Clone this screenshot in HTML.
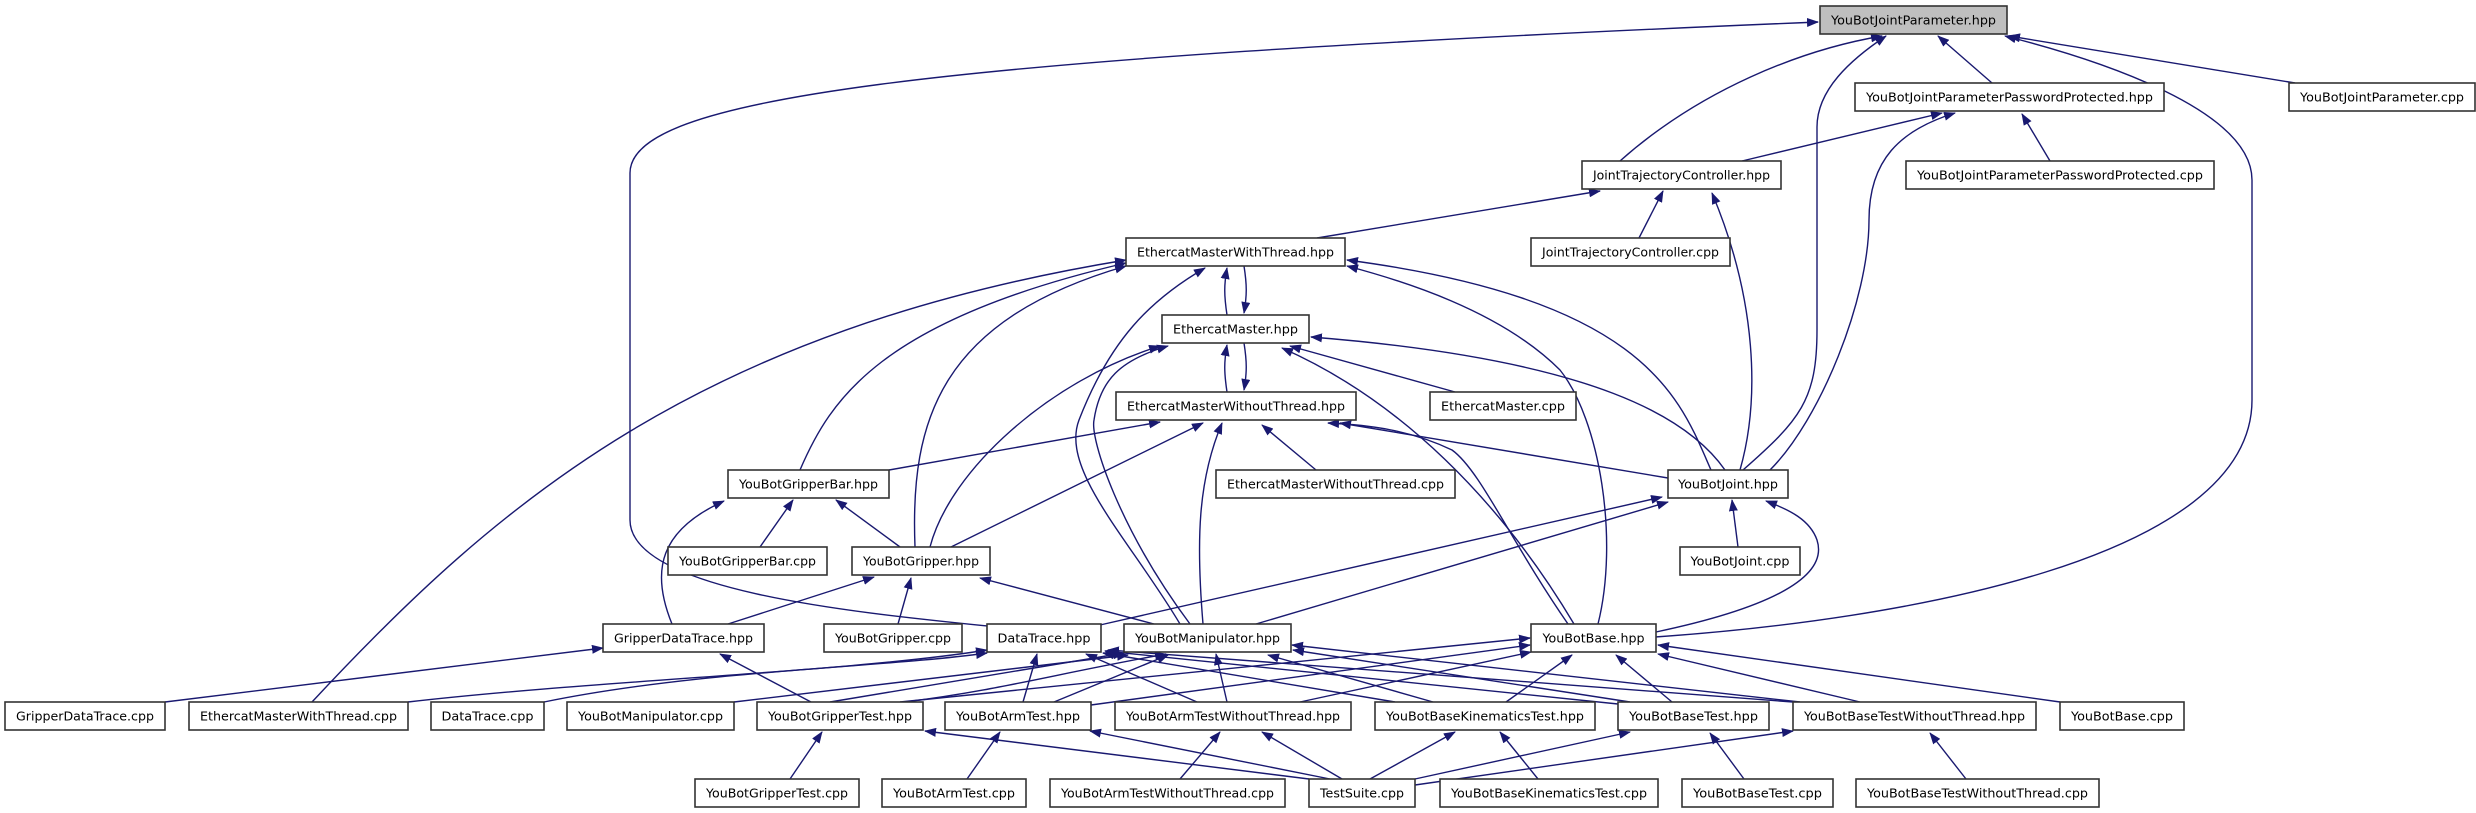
<!DOCTYPE html>
<html><head><meta charset="utf-8"><style>
html,body{margin:0;padding:0;background:#fff}
svg{display:block}
text{font-family:"DejaVu Sans","Liberation Sans",sans-serif;font-size:12px;fill:#000}
.e{fill:none;stroke:#191970;stroke-width:1.4;marker-end:url(#a)}
.n{fill:#fff;stroke:#333;stroke-width:1.6}
</style></head><body>
<svg width="2476" height="813" viewBox="0 0 2476 813" xmlns="http://www.w3.org/2000/svg">
<defs><marker id="a" markerWidth="12" markerHeight="9" refX="11" refY="4.5" orient="auto" markerUnits="userSpaceOnUse"><path d="M0,0 L12,4.5 L0,9 z" fill="#191970"/></marker></defs>
<g>
<path class="e" d="M987,626 C850,612 630,590 630,520 L630,173 C630,100 900,60 1818,22"/>
<path class="e" d="M1620,161 C1700,90 1800,50 1882,36"/>
<path class="e" d="M1743,470 C1800,420 1817,400 1817,330 L1817,127 C1817,90 1850,60 1886,36"/>
<path class="e" d="M1992,83 L1938,36"/>
<path class="e" d="M1655,637 C1900,620 2252,560 2252,400 L2252,180 C2252,110 2100,60 2005,36"/>
<path class="e" d="M2295,83 L2009,36"/>
<path class="e" d="M1742,161 L1942,113"/>
<path class="e" d="M1770,470 C1820,420 1869,300 1869,220 C1869,160 1900,130 1955,113"/>
<path class="e" d="M2050,161 L2022,114"/>
<path class="e" d="M1317,238 L1600,191"/>
<path class="e" d="M1639,238 L1663,191"/>
<path class="e" d="M1740,470 C1760,400 1757,300 1712,193"/>
<path class="e" d="M1227,315 C1224,295 1224,285 1227,268"/>
<path class="e" d="M1244,266 C1247,285 1247,295 1244,313"/>
<path class="e" d="M312,702 C500,500 700,330 1126,260"/>
<path class="e" d="M800,470 C830,400 880,320 1126,263"/>
<path class="e" d="M915,547 C910,420 940,320 1126,266"/>
<path class="e" d="M1180,624 C1130,540 1060,470 1079,420 C1110,340 1150,300 1205,268"/>
<path class="e" d="M1711,470 C1680,400 1650,300 1347,260"/>
<path class="e" d="M1598,624 C1619,540 1600,420 1560,370 C1500,310 1400,280 1347,266"/>
<path class="e" d="M1725,470 C1690,420 1600,360 1311,337"/>
<path class="e" d="M1227,392 C1224,372 1224,362 1227,345"/>
<path class="e" d="M1244,343 C1247,362 1247,372 1244,390"/>
<path class="e" d="M1455,392 L1290,346"/>
<path class="e" d="M1574,624 C1500,500 1400,400 1282,348"/>
<path class="e" d="M930,547 C950,470 1050,380 1160,346"/>
<path class="e" d="M1190,624 C1120,530 1090,440 1094,420 C1100,380 1120,360 1168,346"/>
<path class="e" d="M889,470 L1160,422"/>
<path class="e" d="M951,547 L1203,423"/>
<path class="e" d="M1203,624 C1196,540 1198,480 1222,423"/>
<path class="e" d="M1316,470 L1262,425"/>
<path class="e" d="M1568,624 C1510,540 1480,470 1452,450 C1410,430 1370,425 1328,423"/>
<path class="e" d="M1668,478 L1340,423"/>
<path class="e" d="M1738,547 L1732,500"/>
<path class="e" d="M1656,632 C1760,610 1830,580 1817,540 C1810,520 1790,510 1766,501"/>
<path class="e" d="M1100,625 L1662,497"/>
<path class="e" d="M1256,624 L1668,502"/>
<path class="e" d="M760,547 L793,500"/>
<path class="e" d="M900,547 L836,500"/>
<path class="e" d="M672,624 C650,570 660,530 724,501"/>
<path class="e" d="M898,624 L911,578"/>
<path class="e" d="M728,624 L874,577"/>
<path class="e" d="M1154,624 L980,578"/>
<path class="e" d="M165,702 L603,648"/>
<path class="e" d="M811,702 L720,654"/>
<path class="e" d="M408,702 C600,680 850,672 987,650"/>
<path class="e" d="M544,702 C700,670 880,668 987,653"/>
<path class="e" d="M734,702 L1128,655"/>
<path class="e" d="M830,702 L1124,653"/>
<path class="e" d="M1023,702 L1037,654"/>
<path class="e" d="M1197,702 L1086,654"/>
<path class="e" d="M1395,702 L1103,653"/>
<path class="e" d="M1618,704 L1105,651"/>
<path class="e" d="M1793,702 L1108,650"/>
<path class="e" d="M905,702 C1000,690 1050,675 1166,654"/>
<path class="e" d="M1054,702 L1168,655"/>
<path class="e" d="M1227,702 L1216,654"/>
<path class="e" d="M1433,702 L1268,655"/>
<path class="e" d="M1630,702 L1293,650"/>
<path class="e" d="M1800,702 L1292,645"/>
<path class="e" d="M900,702 L1530,638"/>
<path class="e" d="M1091,705 L1530,645"/>
<path class="e" d="M1300,702 L1531,652"/>
<path class="e" d="M1506,702 L1572,655"/>
<path class="e" d="M1672,702 L1616,655"/>
<path class="e" d="M1860,702 L1658,654"/>
<path class="e" d="M2060,702 L1658,645"/>
<path class="e" d="M790,779 L822,732"/>
<path class="e" d="M1309,779 L925,731"/>
<path class="e" d="M967,779 L1000,732"/>
<path class="e" d="M1330,779 L1090,731"/>
<path class="e" d="M1180,779 L1220,732"/>
<path class="e" d="M1342,779 L1262,732"/>
<path class="e" d="M1370,779 L1455,732"/>
<path class="e" d="M1538,779 L1500,732"/>
<path class="e" d="M1415,779 L1630,732"/>
<path class="e" d="M1744,779 L1710,733"/>
<path class="e" d="M1415,785 L1793,731"/>
<path class="e" d="M1966,779 L1930,733"/>
</g>
<g>
<rect x="1820" y="6" width="187" height="28" fill="#bfbfbf" stroke="#333" stroke-width="1.6"/><text x="1913.5" y="24.5" text-anchor="middle" textLength="165" lengthAdjust="spacingAndGlyphs">YouBotJointParameter.hpp</text>
<rect class="n" x="1855" y="83" width="309" height="28"/><text x="2009.5" y="101.5" text-anchor="middle" textLength="287" lengthAdjust="spacingAndGlyphs">YouBotJointParameterPasswordProtected.hpp</text>
<rect class="n" x="2289" y="83" width="186" height="28"/><text x="2382" y="101.5" text-anchor="middle" textLength="164" lengthAdjust="spacingAndGlyphs">YouBotJointParameter.cpp</text>
<rect class="n" x="1582" y="161" width="199" height="28"/><text x="1681.5" y="179.5" text-anchor="middle" textLength="177" lengthAdjust="spacingAndGlyphs">JointTrajectoryController.hpp</text>
<rect class="n" x="1906" y="161" width="308" height="28"/><text x="2060" y="179.5" text-anchor="middle" textLength="286" lengthAdjust="spacingAndGlyphs">YouBotJointParameterPasswordProtected.cpp</text>
<rect class="n" x="1126" y="238" width="219" height="28"/><text x="1235.5" y="256.5" text-anchor="middle" textLength="197" lengthAdjust="spacingAndGlyphs">EthercatMasterWithThread.hpp</text>
<rect class="n" x="1531" y="238" width="199" height="28"/><text x="1630.5" y="256.5" text-anchor="middle" textLength="177" lengthAdjust="spacingAndGlyphs">JointTrajectoryController.cpp</text>
<rect class="n" x="1162" y="315" width="147" height="28"/><text x="1235.5" y="333.5" text-anchor="middle" textLength="125" lengthAdjust="spacingAndGlyphs">EthercatMaster.hpp</text>
<rect class="n" x="1116" y="392" width="240" height="28"/><text x="1236" y="410.5" text-anchor="middle" textLength="218" lengthAdjust="spacingAndGlyphs">EthercatMasterWithoutThread.hpp</text>
<rect class="n" x="1430" y="392" width="146" height="28"/><text x="1503" y="410.5" text-anchor="middle" textLength="124" lengthAdjust="spacingAndGlyphs">EthercatMaster.cpp</text>
<rect class="n" x="728" y="470" width="161" height="28"/><text x="808.5" y="488.5" text-anchor="middle" textLength="139" lengthAdjust="spacingAndGlyphs">YouBotGripperBar.hpp</text>
<rect class="n" x="1216" y="470" width="239" height="28"/><text x="1335.5" y="488.5" text-anchor="middle" textLength="217" lengthAdjust="spacingAndGlyphs">EthercatMasterWithoutThread.cpp</text>
<rect class="n" x="1668" y="470" width="120" height="28"/><text x="1728" y="488.5" text-anchor="middle" textLength="100" lengthAdjust="spacingAndGlyphs">YouBotJoint.hpp</text>
<rect class="n" x="668" y="547" width="159" height="28"/><text x="747.5" y="565.5" text-anchor="middle" textLength="137" lengthAdjust="spacingAndGlyphs">YouBotGripperBar.cpp</text>
<rect class="n" x="852" y="547" width="138" height="28"/><text x="921" y="565.5" text-anchor="middle" textLength="116" lengthAdjust="spacingAndGlyphs">YouBotGripper.hpp</text>
<rect class="n" x="1680" y="547" width="120" height="28"/><text x="1740" y="565.5" text-anchor="middle" textLength="99" lengthAdjust="spacingAndGlyphs">YouBotJoint.cpp</text>
<rect class="n" x="603" y="624" width="161" height="28"/><text x="683.5" y="642.5" text-anchor="middle" textLength="139" lengthAdjust="spacingAndGlyphs">GripperDataTrace.hpp</text>
<rect class="n" x="824" y="624" width="138" height="28"/><text x="893" y="642.5" text-anchor="middle" textLength="116" lengthAdjust="spacingAndGlyphs">YouBotGripper.cpp</text>
<rect class="n" x="987" y="624" width="114" height="28"/><text x="1044" y="642.5" text-anchor="middle" textLength="93" lengthAdjust="spacingAndGlyphs">DataTrace.hpp</text>
<rect class="n" x="1124" y="624" width="167" height="28"/><text x="1207.5" y="642.5" text-anchor="middle" textLength="145" lengthAdjust="spacingAndGlyphs">YouBotManipulator.hpp</text>
<rect class="n" x="1531" y="624" width="125" height="28"/><text x="1593.5" y="642.5" text-anchor="middle" textLength="102" lengthAdjust="spacingAndGlyphs">YouBotBase.hpp</text>
<rect class="n" x="5" y="702" width="160" height="28"/><text x="85" y="720.5" text-anchor="middle" textLength="138" lengthAdjust="spacingAndGlyphs">GripperDataTrace.cpp</text>
<rect class="n" x="189" y="702" width="219" height="28"/><text x="298.5" y="720.5" text-anchor="middle" textLength="197" lengthAdjust="spacingAndGlyphs">EthercatMasterWithThread.cpp</text>
<rect class="n" x="431" y="702" width="113" height="28"/><text x="487.5" y="720.5" text-anchor="middle" textLength="92" lengthAdjust="spacingAndGlyphs">DataTrace.cpp</text>
<rect class="n" x="567" y="702" width="167" height="28"/><text x="650.5" y="720.5" text-anchor="middle" textLength="145" lengthAdjust="spacingAndGlyphs">YouBotManipulator.cpp</text>
<rect class="n" x="757" y="702" width="166" height="28"/><text x="840" y="720.5" text-anchor="middle" textLength="144" lengthAdjust="spacingAndGlyphs">YouBotGripperTest.hpp</text>
<rect class="n" x="945" y="702" width="146" height="28"/><text x="1018" y="720.5" text-anchor="middle" textLength="124" lengthAdjust="spacingAndGlyphs">YouBotArmTest.hpp</text>
<rect class="n" x="1115" y="702" width="236" height="28"/><text x="1233" y="720.5" text-anchor="middle" textLength="214" lengthAdjust="spacingAndGlyphs">YouBotArmTestWithoutThread.hpp</text>
<rect class="n" x="1375" y="702" width="220" height="28"/><text x="1485" y="720.5" text-anchor="middle" textLength="198" lengthAdjust="spacingAndGlyphs">YouBotBaseKinematicsTest.hpp</text>
<rect class="n" x="1618" y="702" width="151" height="28"/><text x="1693.5" y="720.5" text-anchor="middle" textLength="129" lengthAdjust="spacingAndGlyphs">YouBotBaseTest.hpp</text>
<rect class="n" x="1793" y="702" width="243" height="28"/><text x="1914.5" y="720.5" text-anchor="middle" textLength="221" lengthAdjust="spacingAndGlyphs">YouBotBaseTestWithoutThread.hpp</text>
<rect class="n" x="2060" y="702" width="124" height="28"/><text x="2122" y="720.5" text-anchor="middle" textLength="102" lengthAdjust="spacingAndGlyphs">YouBotBase.cpp</text>
<rect class="n" x="695" y="779" width="164" height="28"/><text x="777" y="797.5" text-anchor="middle" textLength="142" lengthAdjust="spacingAndGlyphs">YouBotGripperTest.cpp</text>
<rect class="n" x="882" y="779" width="144" height="28"/><text x="954" y="797.5" text-anchor="middle" textLength="122" lengthAdjust="spacingAndGlyphs">YouBotArmTest.cpp</text>
<rect class="n" x="1050" y="779" width="235" height="28"/><text x="1167.5" y="797.5" text-anchor="middle" textLength="213" lengthAdjust="spacingAndGlyphs">YouBotArmTestWithoutThread.cpp</text>
<rect class="n" x="1309" y="779" width="106" height="28"/><text x="1362" y="797.5" text-anchor="middle" textLength="84" lengthAdjust="spacingAndGlyphs">TestSuite.cpp</text>
<rect class="n" x="1440" y="779" width="218" height="28"/><text x="1549" y="797.5" text-anchor="middle" textLength="196" lengthAdjust="spacingAndGlyphs">YouBotBaseKinematicsTest.cpp</text>
<rect class="n" x="1682" y="779" width="151" height="28"/><text x="1757.5" y="797.5" text-anchor="middle" textLength="129" lengthAdjust="spacingAndGlyphs">YouBotBaseTest.cpp</text>
<rect class="n" x="1856" y="779" width="243" height="28"/><text x="1977.5" y="797.5" text-anchor="middle" textLength="221" lengthAdjust="spacingAndGlyphs">YouBotBaseTestWithoutThread.cpp</text>
</g>
</svg>
</body></html>
